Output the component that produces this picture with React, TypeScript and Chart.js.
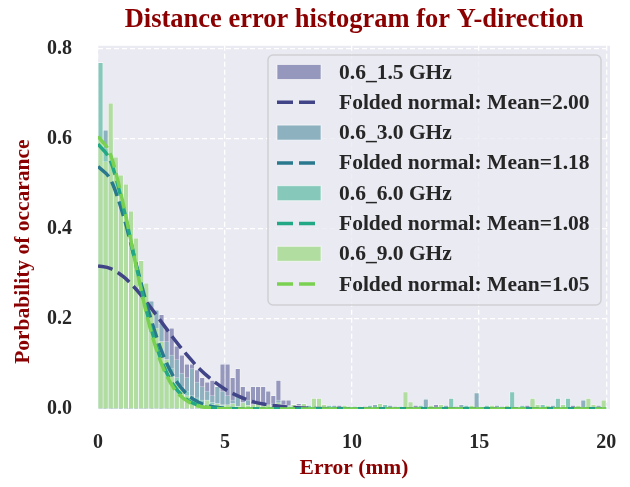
import React, { useEffect, useRef } from 'react';
import { Chart, registerables } from 'chart.js';

Chart.register(...registerables);

const FONT = '"Liberation Serif", "Times New Roman", serif';

// ---- data ----
const BIN_WIDTH = 0.2; // mm
const N_BINS = 100; // 0 .. 20 mm

const SERIES_LABELS = ['0.6_1.5 GHz', '0.6_3.0 GHz', '0.6_6.0 GHz', '0.6_9.0 GHz'];
const FIT_LABELS = [
  'Folded normal: Mean=2.00',
  'Folded normal: Mean=1.18',
  'Folded normal: Mean=1.08',
  'Folded normal: Mean=1.05',
];
const COLORS = ['#414487', '#2a788e', '#22a884', '#7ad151'];
// half-transparent tints of the colours above, as they appear over the axes background
const FILLS = ['#9597bc', '#8eb1c0', '#86c9bb', '#b2dda1'];

// histogram densities for bins covering 0 - 8 mm
const HIST_1_5 = [
  0.30, 0.36, 0.33, 0.28, 0.31, 0.27, 0.29, 0.25, 0.26, 0.22,
  0.24, 0.19, 0.21, 0.18, 0.18, 0.14, 0.12, 0.10, 0.10, 0.087,
  0.07, 0.06, 0.064, 0.05, 0.10, 0.10, 0.07, 0.09, 0.05, 0.04,
  0.05, 0.05, 0.05, 0.04, 0.03, 0.064, 0.02, 0.02, 0.01, 0.012,
];
const HIST_3_0 = [
  0.56, 0.62, 0.50, 0.52, 0.47, 0.44, 0.40, 0.34, 0.33, 0.27,
  0.24, 0.22, 0.19, 0.15, 0.12, 0.11, 0.08, 0.07, 0.09, 0.06,
  0.05, 0.04, 0.03, 0.05, 0.04, 0.03, 0.02, 0.03, 0.015, 0.02,
  0.01, 0.015, 0.01, 0.008, 0.012, 0.02, 0.008, 0.006, 0.01, 0.006,
];
const HIST_6_0 = [
  0.77, 0.58, 0.60, 0.55, 0.50, 0.47, 0.42, 0.36, 0.33, 0.25,
  0.19, 0.17, 0.15, 0.11, 0.09, 0.07, 0.05, 0.04, 0.03, 0.025,
  0.02, 0.02, 0.015, 0.012, 0.01, 0.008, 0.012, 0.006, 0.01, 0.008,
  0.006, 0.01, 0.006, 0.008, 0.006, 0.01, 0.006, 0.008, 0.006, 0.006,
];
const HIST_9_0 = [
  0.60, 0.55, 0.68, 0.56, 0.52, 0.50, 0.44, 0.38, 0.33, 0.28,
  0.22, 0.18, 0.15, 0.11, 0.08, 0.06, 0.045, 0.03, 0.025, 0.02,
  0.015, 0.02, 0.01, 0.012, 0.008, 0.01, 0.012, 0.006, 0.014, 0.008,
  0.01, 0.012, 0.008, 0.01, 0.008, 0.014, 0.01, 0.006, 0.01, 0.008,
];

// sparse tail bins beyond 8 mm: [bin index, density]
const TAIL_1_5 = [
  [40, 0.012], [42, 0.01], [44, 0.008], [47, 0.008], [52, 0.006], [55, 0.008], [58, 0.006],
  [62, 0.008], [66, 0.01], [70, 0.006], [74, 0.008], [79, 0.006], [84, 0.008], [88, 0.006],
  [93, 0.008], [97, 0.006],
];
const TAIL_3_0 = [
  [40, 0.01], [43, 0.012], [46, 0.008], [50, 0.006], [54, 0.01], [57, 0.008], [60, 0.006],
  [64, 0.022], [68, 0.008], [71, 0.01], [74, 0.036], [78, 0.008], [81, 0.01], [85, 0.02],
  [89, 0.008], [92, 0.01], [95, 0.02], [98, 0.008],
];
const TAIL_6_0 = [
  [41, 0.008], [45, 0.008], [49, 0.006], [53, 0.008], [56, 0.01], [59, 0.006], [63, 0.008],
  [69, 0.024], [72, 0.008], [76, 0.008], [81, 0.038], [83, 0.008], [87, 0.01], [90, 0.024],
  [92, 0.024], [96, 0.008], [99, 0.006],
];
const TAIL_9_0 = [
  [40, 0.012], [42, 0.024], [43, 0.024], [44, 0.01], [48, 0.008], [51, 0.006], [55, 0.012],
  [60, 0.038], [61, 0.016], [65, 0.008], [67, 0.01], [73, 0.008], [77, 0.008], [80, 0.008],
  [85, 0.024], [86, 0.01], [88, 0.008], [91, 0.01], [94, 0.008], [96, 0.024], [97, 0.01],
  [99, 0.02],
];

// fitted folded-normal curves, read at these x positions
const CURVE_X = [0, 0.5, 1, 1.5, 2, 2.5, 3, 3.5, 4, 4.5, 5, 5.5, 6, 6.5, 7, 7.5, 8, 10, 12, 14, 16, 18, 20];
const FIT_1_5 = [0.318, 0.312, 0.294, 0.266, 0.231, 0.193, 0.155, 0.120, 0.089, 0.064, 0.044, 0.029, 0.018, 0.011, 0.007, 0.004, 0.002, 0.0001, 0, 0, 0, 0, 0];
const FIT_3_0 = [0.539, 0.509, 0.429, 0.322, 0.216, 0.129, 0.069, 0.033, 0.014, 0.005, 0.002, 0.0005, 0.0001, 0, 0, 0, 0, 0, 0, 0, 0, 0, 0];
const FIT_6_0 = [0.589, 0.550, 0.448, 0.319, 0.198, 0.107, 0.051, 0.021, 0.0075, 0.0024, 0.0007, 0.0002, 0, 0, 0, 0, 0, 0, 0, 0, 0, 0, 0];
const FIT_9_0 = [0.606, 0.564, 0.454, 0.317, 0.191, 0.100, 0.045, 0.018, 0.006, 0.0017, 0.0005, 0.0001, 0, 0, 0, 0, 0, 0, 0, 0, 0, 0, 0];

const X_TICKS = [0, 5, 10, 15, 20];
const Y_TICKS = [0, 0.2, 0.4, 0.6, 0.8];

// ---- builders ----
function buildHist(head: number[], tail: number[][]) {
  const arr = new Array(N_BINS).fill(0);
  head.forEach((v, i) => (arr[i] = v));
  tail.forEach(([i, v]) => (arr[i] = v));
  return arr.map((v, i) => ({ x: (i + 0.5) * BIN_WIDTH, y: v }));
}
function buildCurve(ys: number[]) {
  return CURVE_X.map((x, i) => ({ x, y: ys[i] }));
}

const HISTS = [buildHist(HIST_1_5, TAIL_1_5), buildHist(HIST_3_0, TAIL_3_0), buildHist(HIST_6_0, TAIL_6_0), buildHist(HIST_9_0, TAIL_9_0)];
const FITS = [buildCurve(FIT_1_5), buildCurve(FIT_3_0), buildCurve(FIT_6_0), buildCurve(FIT_9_0)];

const backgroundPlugin = {
  id: 'axesBg',
  beforeDraw(chart: any) {
    const { ctx, chartArea } = chart;
    ctx.save();
    ctx.fillStyle = '#eaeaf2';
    ctx.fillRect(chartArea.left, chartArea.top, chartArea.right - chartArea.left, chartArea.bottom - chartArea.top);
    ctx.restore();
  },
};

const legendPlugin = {
  id: 'boxLegend',
  afterDraw(chart: any) {
    const ctx = chart.ctx;
    const x0 = 268, y0 = 55, w = 333, h = 250, r = 5;
    ctx.save();
    ctx.beginPath();
    ctx.moveTo(x0 + r, y0);
    ctx.arcTo(x0 + w, y0, x0 + w, y0 + h, r);
    ctx.arcTo(x0 + w, y0 + h, x0, y0 + h, r);
    ctx.arcTo(x0, y0 + h, x0, y0, r);
    ctx.arcTo(x0, y0, x0 + w, y0, r);
    ctx.closePath();
    ctx.fillStyle = 'rgba(234,234,242,0.8)';
    ctx.fill();
    ctx.strokeStyle = '#cfcfd4';
    ctx.lineWidth = 1.5;
    ctx.stroke();

    const datasets = chart.data.datasets;
    datasets.forEach((ds: any, i: number) => {
      const cy = 72 + i * 30.3;
      if (ds.type === 'bar') {
        ctx.fillStyle = ds.backgroundColor;
        ctx.fillRect(277, cy - 7.5, 44, 15);
        ctx.strokeStyle = 'rgba(255,255,255,0.6)';
        ctx.lineWidth = 1;
        ctx.strokeRect(277, cy - 7.5, 44, 15);
      } else {
        ctx.setLineDash([16, 6]);
        ctx.strokeStyle = ds.borderColor;
        ctx.lineWidth = 3.5;
        ctx.beginPath();
        ctx.moveTo(277, cy);
        ctx.lineTo(321, cy);
        ctx.stroke();
        ctx.setLineDash([]);
      }
      ctx.fillStyle = '#262626';
      ctx.font = `bold 21.5px ${FONT}`;
      ctx.textBaseline = 'middle';
      ctx.textAlign = 'left';
      ctx.fillText(ds.label, 339, cy + 1);
    });
    ctx.restore();
  },
};

export default function App() {
  const ref = useRef<HTMLCanvasElement | null>(null);

  useEffect(() => {
    if (!ref.current) return;
    const datasets: any[] = [];
    for (let s = 0; s < 4; s++) {
      datasets.push({
        type: 'bar',
        label: SERIES_LABELS[s],
        data: HISTS[s],
        backgroundColor: FILLS[s],
        borderColor: 'rgba(255,255,255,0.5)',
        borderWidth: 0.8,
        barThickness: 'flex',
        barPercentage: 1,
        categoryPercentage: 1,
        stack: 'hist',
        order: 8 - s,
      });
      datasets.push({
        type: 'line',
        label: FIT_LABELS[s],
        data: FITS[s],
        borderColor: COLORS[s],
        borderWidth: 3.5,
        borderDash: [15, 6],
        pointRadius: 0,
        fill: false,
        cubicInterpolationMode: 'monotone',
        order: 4 - s,
      });
    }

    const chart = new Chart(ref.current, {
      type: 'line',
      data: { datasets },
      options: {
        animation: false,
        responsive: false,
        devicePixelRatio: 1,
        layout: { padding: { left: 0, right: 20, top: 0, bottom: 0 } },
        plugins: {
          legend: { display: false },
          tooltip: { enabled: false },
          title: {
            display: true,
            text: 'Distance error histogram for Y-direction',
            color: '#8b0000',
            fullSize: false,
            font: { family: FONT, size: 26.5, weight: 'bold' },
            padding: { top: 4, bottom: 10 },
          },
        },
        scales: {
          x: {
            type: 'linear',
            min: 0,
            max: 20.15,
            offset: false,
            afterFit: (scale: any) => { scale.height = 78; },
            afterBuildTicks: (scale: any) => { scale.ticks = X_TICKS.map((v) => ({ value: v })); },
            ticks: {
              includeBounds: false,
              padding: 0,
              color: '#262626',
              font: { family: FONT, size: 20, weight: 'bold' },
              callback: (v: any) => String(v),
            },
            grid: {
              color: '#ffffff',
              lineWidth: 1.3,
              drawTicks: true,
              tickLength: 22,
              tickColor: 'rgba(0,0,0,0)',
              offset: false,
            },
            border: { display: false, dash: [5, 3] },
            title: {
              display: true,
              text: 'Error (mm)',
              color: '#8b0000',
              font: { family: FONT, size: 21.5, weight: 'bold' },
              padding: { top: 0, bottom: 6 },
            },
          },
          y: {
            type: 'linear',
            min: 0,
            max: 0.807,
            stacked: false,
            afterFit: (scale: any) => { scale.width = 98; },
            afterBuildTicks: (scale: any) => { scale.ticks = Y_TICKS.map((v) => ({ value: v })); },
            ticks: {
              includeBounds: false,
              padding: 26,
              color: '#262626',
              font: { family: FONT, size: 20, weight: 'bold' },
              callback: (v: any) => Number(v).toFixed(1),
            },
            grid: { color: '#ffffff', lineWidth: 1.3, drawTicks: false },
            border: { display: false, dash: [5, 3] },
            title: {
              display: true,
              text: 'Porbability of occarance         ',
              color: '#8b0000',
              font: { family: FONT, size: 21.5, weight: 'bold' },
              padding: { top: 11, bottom: 0 },
            },
          },
        },
      } as any,
      plugins: [backgroundPlugin, legendPlugin],
    });
    return () => chart.destroy();
  }, []);

  return (
    <div style={{ position: 'fixed', left: 0, top: 0, width: 630, height: 487 }}>
      <canvas ref={ref} width={630} height={487} />
    </div>
  );
}
